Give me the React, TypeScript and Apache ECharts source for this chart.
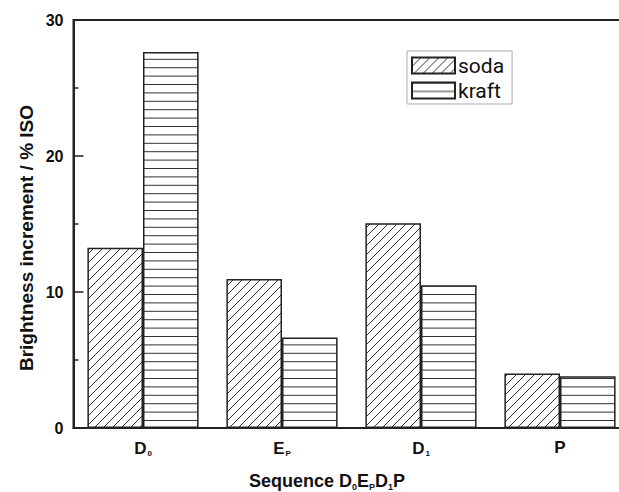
import React, { useEffect, useRef } from "react";
import * as echarts from "echarts";

const categories = ["D0", "EP", "D1", "P"];
const categorySub: Record<string, [string, string]> = {
  D0: ["D", "0"],
  EP: ["E", "P"],
  D1: ["D", "1"],
  P: ["P", ""],
};
const sodaValues = [13.25, 10.95, 15.05, 4.0];
const kraftValues = [27.65, 6.65, 10.5, 3.8];
const yTicks = { min: 0, max: 30, interval: 10 };

function diagPattern(): string {
  const c = document.createElement("canvas");
  const s = 9;
  c.width = s;
  c.height = s;
  const ctx = c.getContext("2d")!;
  ctx.fillStyle = "#fff";
  ctx.fillRect(0, 0, s, s);
  ctx.strokeStyle = "#333";
  ctx.lineWidth = 1;
  ctx.beginPath();
  ctx.moveTo(-1, s + 1);
  ctx.lineTo(s + 1, -1);
  ctx.moveTo(-2, 2);
  ctx.lineTo(2, -2);
  ctx.moveTo(s - 2, s + 2);
  ctx.lineTo(s + 2, s - 2);
  ctx.stroke();
  return c.toDataURL();
}

function horizPattern(): string {
  const c = document.createElement("canvas");
  const w = 10;
  const h = 42;
  c.width = w;
  c.height = h;
  const ctx = c.getContext("2d")!;
  ctx.fillStyle = "#fff";
  ctx.fillRect(0, 0, w, h);
  ctx.strokeStyle = "#333";
  ctx.lineWidth = 1;
  ctx.beginPath();
  for (let i = 0; i < 5; i++) {
    const y = 0.5 + i * 8.4;
    ctx.moveTo(0, y);
    ctx.lineTo(w, y);
  }
  ctx.stroke();
  return c.toDataURL();
}

export default function App() {
  const ref = useRef<HTMLDivElement>(null);
  useEffect(() => {
    if (!ref.current) return;
    const chart = echarts.init(ref.current, null, { renderer: "svg" });
    const sodaImg = diagPattern();
    const kraftImg = horizPattern();
    const bold = "Liberation Sans, Arial, sans-serif";
    chart.setOption({
      animation: false,
      backgroundColor: "#fff",
      grid: {
        left: 73.5,
        right: 10.5,
        top: 20,
        bottom: 64,
        show: true,
        borderColor: "#222",
        borderWidth: 2,
        backgroundColor: "transparent",
      },
      legend: {
        orient: "vertical",
        left: 407,
        top: 51,
        padding: [4, 8, 3, 4],
        itemWidth: 43,
        itemHeight: 16,
        itemGap: 4,
        borderColor: "#aaa",
        borderWidth: 1,
        icon: "rect",
        textStyle: { fontFamily: "Roboto", fontSize: 21, color: "#111", padding: [0, 0, 0, -2] },
        data: ["soda", "kraft"],
      },
      xAxis: {
        type: "category",
        data: categories,
        axisLine: { lineStyle: { color: "#222", width: 2 } },
        axisTick: { show: false },
        axisLabel: {
          margin: 11,
          formatter: (v: string) => {
            const [a, b] = categorySub[v];
            return b ? `{m|${a}}{s|${b}}` : `{m|${a}}`;
          },
          rich: {
            m: { fontFamily: bold, fontWeight: "bold", fontSize: 17, color: "#111" },
            s: { fontFamily: bold, fontWeight: "bold", fontSize: 8, color: "#111", verticalAlign: "bottom", padding: [10, 0, 0, 1] },
          },
        },
      },
      yAxis: {
        type: "value",
        min: yTicks.min,
        max: yTicks.max,
        interval: yTicks.interval,
        axisLine: { show: true, lineStyle: { color: "#222", width: 2 } },
        axisTick: { show: true, inside: true, length: 10, lineStyle: { color: "#222", width: 1.5 } },
        minorTick: { show: true, splitNumber: 2, length: 5, lineStyle: { color: "#222", width: 1.5 } },
        splitLine: { show: false },
        axisLabel: { margin: 10, fontFamily: bold, fontWeight: "bold", fontSize: 16, color: "#111" },
      },
      graphic: [
        {
          type: "text",
          x: 26,
          y: 238,
          rotation: Math.PI / 2,
          style: {
            text: "Brightness increment / % ISO",
            font: `bold 19px ${bold}`,
            fill: "#111",
            textAlign: "center",
            textVerticalAlign: "middle",
          },
        },
        {
          type: "text",
          x: 327,
          y: 481,
          style: {
            text: "{m|Sequence D}{s|0}{m|E}{s|P}{m|D}{s|1}{m|P}",
            rich: {
              m: { fontFamily: bold, fontWeight: "bold", fontSize: 18, fill: "#111" },
              s: { fontFamily: bold, fontWeight: "bold", fontSize: 9, fill: "#111", verticalAlign: "bottom", padding: [11, 0, 0, 0] },
            },
            textAlign: "center",
            textVerticalAlign: "middle",
          },
        },
      ],
      series: [
        {
          name: "soda",
          type: "bar",
          data: sodaValues,
          barGap: "0%",
          barCategoryGap: "20%",
          itemStyle: {
            color: { image: sodaImg, repeat: "repeat" },
            borderColor: "#222",
            borderWidth: 1.5,
          },
        },
        {
          name: "kraft",
          type: "bar",
          data: kraftValues,
          barGap: "0%",
          barCategoryGap: "20%",
          itemStyle: {
            color: { image: kraftImg, repeat: "repeat" },
            borderColor: "#222",
            borderWidth: 1.5,
          },
        },
      ],
    });
    return () => chart.dispose();
  }, []);
  return (
    <div style={{ position: "fixed", left: 0, top: 0, width: 619, height: 492, overflow: "hidden", background: "#fff" }}>
      <div ref={ref} style={{ width: 640, height: 492 }} />
    </div>
  );
}
